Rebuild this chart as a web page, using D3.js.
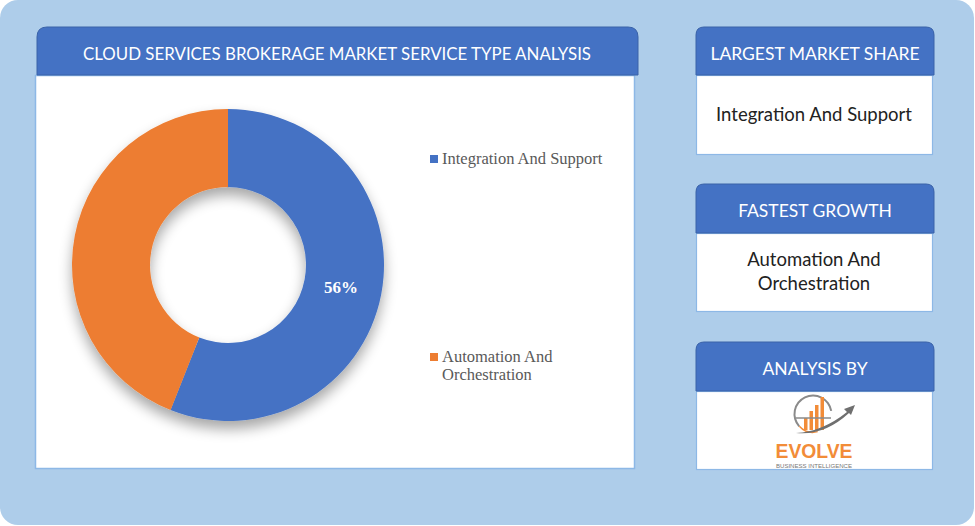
<!DOCTYPE html>
<html><head><meta charset="utf-8">
<script src="https://cdn.jsdelivr.net/npm/d3@7"></script>
<style>html,body{margin:0;padding:0;background:#fff;}svg{display:block;}</style>
</head><body>
<svg id="c" width="975" height="526"></svg>
<script>
const title = "CLOUD SERVICES BROKERAGE MARKET SERVICE TYPE ANALYSIS";
const categories = ["Integration And Support", "Automation And Orchestration"];
const values = [56, 44];
const colors = ["#4472C4", "#ED7D31"];
const legendLines = [["Integration And Support"], ["Automation And", "Orchestration"]];
const sideTitles = ["LARGEST MARKET SHARE", "FASTEST GROWTH", "ANALYSIS BY"];
const sideTexts = [["Integration And Support"], ["Automation And", "Orchestration"], []];

const svg = d3.select("#c");
const defs = svg.append("defs");
const f = defs.append("filter").attr("id","sh").attr("x","-30%").attr("y","-30%").attr("width","160%").attr("height","170%");
f.append("feGaussianBlur").attr("in","SourceAlpha").attr("stdDeviation",7);
f.append("feOffset").attr("dy",8).attr("result","ob");
f.append("feComponentTransfer").append("feFuncA").attr("type","linear").attr("slope",0.35);
const m = f.append("feMerge"); m.append("feMergeNode"); m.append("feMergeNode").attr("in","SourceGraphic");

// background
svg.append("rect").attr("x",0).attr("y",0).attr("width",974).attr("height",525).attr("rx",18).attr("fill","#AECDEA");

function topRounded(x,y,w,h,r){
  return `M${x},${y+h}V${y+r}Q${x},${y} ${x+r},${y}H${x+w-r}Q${x+w},${y} ${x+w},${y+r}V${y+h}Z`;
}
// left panel
svg.append("rect").attr("x",35.5).attr("y",75.5).attr("width",599).attr("height",393).attr("fill","#fff").attr("stroke","#8DB8E6").attr("stroke-width",1.5);
svg.append("path").attr("d",topRounded(37,27,601,48,10)).attr("fill","#4472C4").attr("stroke","#3A62A8").attr("stroke-width",1);
svg.append("text").attr("x",337).attr("y",59.5).attr("text-anchor","middle").attr("fill","#fff")
  .attr("font-family","Lato, 'Open Sans', sans-serif").attr("font-size",17).attr("textLength",508).attr("lengthAdjust","spacingAndGlyphs").text(title);

// donut
const cx=228, cy=265, R=156, r0=78;
const pie = d3.pie().sort(null).value(d=>d)(values);
const arc = d3.arc().innerRadius(r0).outerRadius(R);
const g = svg.append("g").attr("transform",`translate(${cx},${cy})`).attr("filter","url(#sh)");
g.selectAll("path").data(pie).join("path").attr("d",arc).attr("fill",(d,i)=>colors[i]);
const c0 = arc.centroid(pie[0]);
svg.append("text").attr("x",cx+c0[0]-2).attr("y",cy+c0[1]+6).attr("text-anchor","middle").attr("fill","#fff")
  .attr("font-family","'Liberation Serif', serif").attr("font-weight","bold").attr("font-size",17).text(values[0]+"%");

// legend
const legY = [159, 357];
legendLines.forEach((lines,i)=>{
  svg.append("rect").attr("x",430).attr("y",legY[i]-4).attr("width",8).attr("height",8).attr("fill",colors[i]);
  lines.forEach((t,j)=>{
    svg.append("text").attr("x",442).attr("y",legY[i]+5+j*18).attr("fill","#595959")
      .attr("font-family","'Liberation Serif', serif").attr("font-size",16.5).text(t);
  });
});

// side panels
const panels = [{hy:27,by:75,bb:154},{hy:184,by:233,bb:311},{hy:342,by:391,bb:469}];
panels.forEach((p,i)=>{
  svg.append("rect").attr("x",696.5).attr("y",p.by+0.5).attr("width",236).attr("height",p.bb-p.by).attr("fill","#fff").attr("stroke","#8DB8E6").attr("stroke-width",1.2);
  svg.append("path").attr("d",topRounded(696,p.hy,238,p.by-p.hy,8)).attr("fill","#4472C4").attr("stroke","#3A62A8").attr("stroke-width",1);
  svg.append("text").attr("x",815).attr("y",p.hy+32.5).attr("text-anchor","middle").attr("fill","#fff")
    .attr("font-family","Lato, 'Open Sans', sans-serif").attr("font-size",17.5).text(sideTitles[i]);
  const lines = sideTexts[i];
  const mid = (p.by+p.bb)/2;
  lines.forEach((t,j)=>{
    svg.append("text").attr("x",814).attr("y",mid+6+(j-(lines.length-1)/2)*24).attr("text-anchor","middle").attr("fill","#222")
      .attr("font-family","Lato, 'Open Sans', sans-serif").attr("font-size",18.5).text(t);
  });
});

// logo
const lg = svg.append("g");
lg.append("path").attr("d",d3.arc().innerRadius(17.5).outerRadius(19.5).startAngle(-2.3).endAngle(1.4)()).attr("transform","translate(813,414)").attr("fill","#8a8a8a");
lg.append("path").attr("d",d3.arc().innerRadius(17.5).outerRadius(19).startAngle(-3.4).endAngle(-2.3)()).attr("transform","translate(813,414)").attr("fill","#F28C38");
[[804,418,3.5,12],[809.5,411,3.5,19],[815,405,3.5,25],[820.5,397,3.5,33]].forEach(b=>{
  lg.append("rect").attr("x",b[0]).attr("y",b[1]).attr("width",b[2]).attr("height",b[3]).attr("fill","#F28C38");
});
lg.append("line").attr("x1",796).attr("x2",831).attr("y1",418).attr("y2",418).attr("stroke","#8a8a8a").attr("stroke-width",1.3);
lg.append("path").attr("d","M796,433 Q822,432 847,412 L844,409 L855,405 L851,415 L849,413 Q824,436 796,433Z").attr("fill","#6f6f6f");
lg.append("text").attr("x",814).attr("y",458).attr("text-anchor","middle").attr("fill","#F28C38")
  .attr("font-family","'Liberation Sans', Arial, sans-serif").attr("font-weight","bold").attr("font-size",20).attr("textLength",77).attr("lengthAdjust","spacingAndGlyphs").text("EVOLVE");
lg.append("text").attr("x",814).attr("y",468).attr("text-anchor","middle").attr("fill","#777")
  .attr("font-family","'Liberation Sans', Arial, sans-serif").attr("font-size",5.5).attr("textLength",76).attr("lengthAdjust","spacingAndGlyphs").text("BUSINESS INTELLIGENCE");
</script>
</body></html>
